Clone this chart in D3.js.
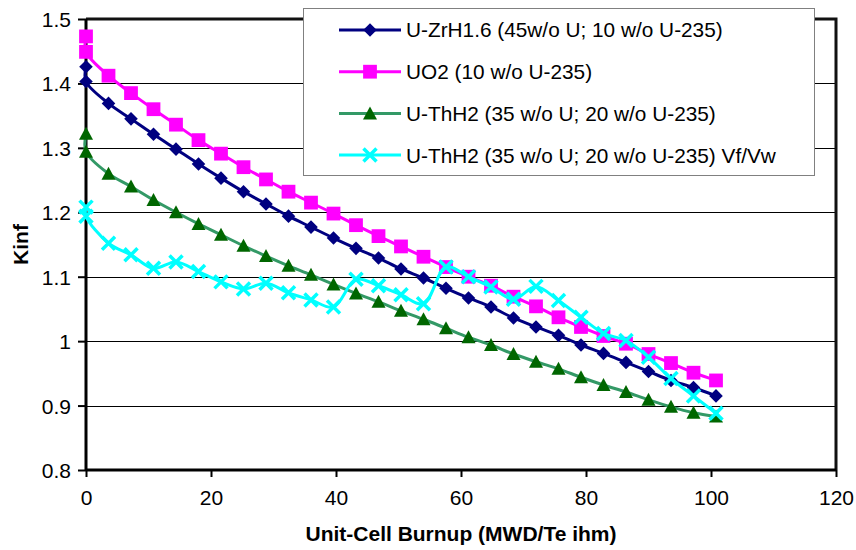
<!DOCTYPE html>
<html>
<head>
<meta charset="utf-8">
<script src="https://cdn.jsdelivr.net/npm/d3@7"></script>
<style>
  body { margin: 0; background: #fff; }
  text { font-family: Arial, "Liberation Sans", sans-serif; }
</style>
</head>
<body>
<div id="chart"></div>
<script>
// burnup points (MWD/Te ihm), shared by all series
const burnup = [0, 0, 3.6, 7.2, 10.8, 14.4, 18, 21.6, 25.2, 28.8, 32.4, 36, 39.6, 43.2, 46.8,
  50.4, 54, 57.6, 61.2, 64.8, 68.4, 72, 75.6, 79.2, 82.8, 86.4, 90, 93.6, 97.2, 100.8];

const uzrh = [1.426, 1.403, 1.369, 1.345, 1.321, 1.298, 1.275, 1.253, 1.232, 1.213, 1.194, 1.177,
  1.160, 1.144, 1.129, 1.112, 1.098, 1.082, 1.067, 1.053, 1.036, 1.022, 1.009, 0.994, 0.981,
  0.967, 0.953, 0.939, 0.928, 0.915];
const uo2 = [1.473, 1.449, 1.412, 1.385, 1.360, 1.336, 1.312, 1.291, 1.270, 1.251, 1.232, 1.215,
  1.198, 1.180, 1.163, 1.147, 1.131, 1.115, 1.100, 1.086, 1.069, 1.054, 1.037, 1.022, 1.008,
  0.996, 0.980, 0.966, 0.951, 0.939];
const uthh2 = [1.322, 1.294, 1.260, 1.240, 1.219, 1.200, 1.182, 1.165, 1.148, 1.132, 1.117, 1.103,
  1.088, 1.074, 1.061, 1.047, 1.034, 1.020, 1.006, 0.994, 0.980, 0.968, 0.957, 0.944, 0.932,
  0.921, 0.909, 0.898, 0.889, 0.883];
const uthh2Vf = [1.208, 1.194, 1.152, 1.134, 1.113, 1.123, 1.108, 1.092, 1.081, 1.090, 1.075, 1.064,
  1.053, 1.096, 1.086, 1.072, 1.058, 1.115, 1.100, 1.084, 1.065, 1.085, 1.063, 1.037, 1.012,
  1.001, 0.975, 0.942, 0.915, 0.888];

const seriesNames = [
  "U-ZrH1.6 (45w/o U; 10 w/o U-235)",
  "UO2 (10 w/o U-235)",
  "U-ThH2 (35 w/o U; 20 w/o U-235)",
  "U-ThH2 (35 w/o U; 20 w/o U-235) Vf/Vw"
];

const xTicks = [0, 20, 40, 60, 80, 100, 120];
const yTicks = [0.8, 0.9, 1, 1.1, 1.2, 1.3, 1.4, 1.5];

const W = 856, H = 550;
const PLOT = {left: 86, right: 836, top: 19, bottom: 470};

const svg = d3.select("#chart").append("svg")
  .attr("width", W).attr("height", H);

const x = d3.scaleLinear().domain([0, 120]).range([PLOT.left, PLOT.right]);
const y = d3.scaleLinear().domain([0.8, 1.5]).range([PLOT.bottom, PLOT.top]);

// gridlines
svg.append("g")
  .selectAll("line")
  .data(yTicks.slice(1, -1))
  .enter().append("line")
    .attr("x1", PLOT.left).attr("x2", PLOT.right)
    .attr("y1", d => Math.round(y(d)) + 0.5).attr("y2", d => Math.round(y(d)) + 0.5)
    .attr("stroke", "#000").attr("stroke-width", 1);

// top + right border
svg.append("path")
  .attr("d", `M${PLOT.left},${PLOT.top}H${PLOT.right}V${PLOT.bottom}`)
  .attr("fill", "none").attr("stroke", "#111").attr("stroke-width", 3);

// axes
const yAxis = svg.append("g")
  .attr("transform", `translate(${PLOT.left},0)`)
  .call(d3.axisLeft(y).tickValues(yTicks).tickFormat(d3.format("")).tickSize(8).tickPadding(7));
const xAxis = svg.append("g")
  .attr("transform", `translate(0,${PLOT.bottom})`)
  .call(d3.axisBottom(x).tickValues(xTicks).tickSize(7).tickPadding(13));

[xAxis, yAxis].forEach(g => {
  g.select(".domain").attr("stroke", "#000").attr("stroke-width", 3);
  g.selectAll(".tick line").attr("stroke", "#000").attr("stroke-width", 2);
  g.selectAll(".tick text").attr("font-size", 21).attr("fill", "#000")
    .attr("font-family", "Arial, 'Liberation Sans', sans-serif");
});
xAxis.select(".domain").attr("d", `M${PLOT.left},0H${PLOT.right}`);
yAxis.select(".domain").attr("d", `M0,${PLOT.top}V${PLOT.bottom}`);
yAxis.selectAll(".tick text").attr("dy", "0.36em");

// axis titles
svg.append("text")
  .attr("x", (PLOT.left + PLOT.right) / 2).attr("y", 541)
  .attr("text-anchor", "middle").attr("font-size", 21).attr("font-weight", "bold")
  .text("Unit-Cell Burnup (MWD/Te ihm)");
svg.append("text")
  .attr("transform", `translate(28,${(PLOT.top + PLOT.bottom) / 2}) rotate(-90)`)
  .attr("text-anchor", "middle").attr("font-size", 21).attr("font-weight", "bold")
  .text("Kinf");

// marker shapes
const diamond = d3.symbol(d3.symbolSquare, 92)();
const square = d3.symbol(d3.symbolSquare, 190)();
const triangle = "M0,-7L7,6L-7,6Z";
const cross = "M-6.5,-6.5L6.5,6.5M-6.5,6.5L6.5,-6.5";

const series = [
  {name: seriesNames[0], values: uzrh, line: "#000080", marker: "#000080", shape: diamond, rot: 45, lw: 3},
  {name: seriesNames[1], values: uo2, line: "#ff00ff", marker: "#ff00ff", shape: square, rot: 0, lw: 3},
  {name: seriesNames[2], values: uthh2, line: "#339966", marker: "#006600", shape: triangle, rot: 0, lw: 3},
  {name: seriesNames[3], values: uthh2Vf, line: "#00ffff", marker: "#00ffff", shape: cross, rot: 0, lw: 3, stroke: true}
];

const line = d3.line()
  .x(d => x(d[0])).y(d => y(d[1]))
  .curve(d3.curveCatmullRom.alpha(0.5));

function drawMarker(g, s, px, py) {
  const m = g.append("path")
    .attr("d", s.shape)
    .attr("transform", `translate(${px},${py}) rotate(${s.rot})`);
  if (s.stroke) m.attr("fill", "none").attr("stroke", s.marker).attr("stroke-width", 3.5);
  else m.attr("fill", s.marker);
}

series.forEach(s => {
  const pts = burnup.map((b, i) => [b, s.values[i]]);
  const g = svg.append("g");
  g.append("path")
    .attr("d", line(pts))
    .attr("fill", "none").attr("stroke", s.line).attr("stroke-width", s.lw);
  pts.forEach(p => drawMarker(g, s, x(p[0]), y(p[1])));
});

// legend
const legend = svg.append("g");
legend.append("rect")
  .attr("x", 303.5).attr("y", 8.5).attr("width", 511).attr("height", 167)
  .attr("fill", "#fff").attr("stroke", "#808080").attr("stroke-width", 1);

series.forEach((s, i) => {
  const ly = 30 + i * 41.7;
  legend.append("line")
    .attr("x1", 339).attr("x2", 401).attr("y1", ly).attr("y2", ly)
    .attr("stroke", s.line).attr("stroke-width", s.lw);
  drawMarker(legend, s, 370, ly);
  legend.append("text")
    .attr("x", 406).attr("y", ly).attr("dy", "0.36em")
    .attr("font-size", 20.8).attr("fill", "#000")
    .text(s.name);
});
</script>
</body>
</html>
